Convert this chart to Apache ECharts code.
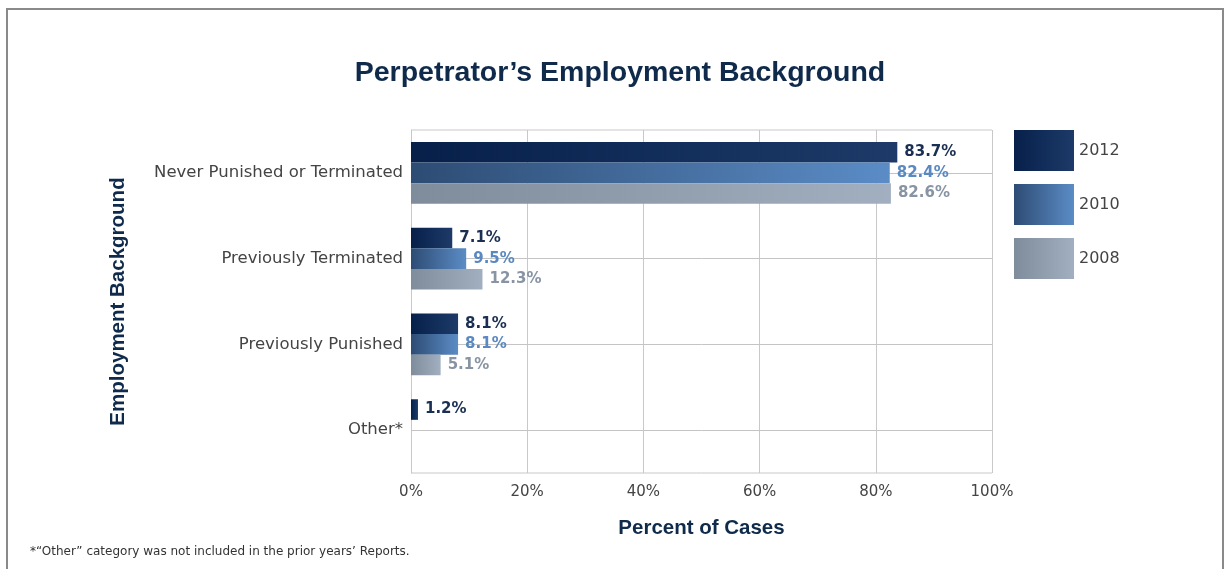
<!DOCTYPE html>
<html><head><meta charset="utf-8">
<script src="https://cdn.jsdelivr.net/npm/echarts@6/dist/echarts.min.js"></script>
<style>html,body{margin:0;padding:0;background:#fff}#c{width:1228px;height:569px}</style>
</head><body><div id="c"></div>
<script>
var categories = ['Never Punished or Terminated', 'Previously Terminated', 'Previously Punished', 'Other*'];
var years = ['2012', '2010', '2008'];
var v2012 = [83.7, 7.1, 8.1, 1.2];
var v2010 = [82.4, 9.5, 8.1, null];
var v2008 = [82.6, 12.3, 5.1, null];
var xTicks = [0, 20, 40, 60, 80, 100];

var FONT = 'Liberation Sans, Arial, sans-serif';
var FONT2 = 'DejaVu Sans, sans-serif';
function grad(a, b) {
  return new echarts.graphic.LinearGradient(0, 0, 1, 0, [{offset: 0, color: a}, {offset: 1, color: b}]);
}
var fills = [grad('#06204a', '#1d3a68'), grad('#2d4c74', '#5b8cc6'), grad('#7f8c9b', '#a2afc0')];
var labelColors = ['#1b2f52', '#5a88c0', '#8894a4'];
var seriesData = [v2012, v2010, v2008];

var series = years.map(function (y, i) {
  return {
    name: y, type: 'bar', data: seriesData[i],
    barGap: '0%', barCategoryGap: '28%',
    itemStyle: {color: fills[i]},
    label: {show: true, position: 'right', distance: 7, formatter: function (p) { return p.value.toFixed(1) + '%'; },
      color: labelColors[i], fontFamily: FONT2, fontWeight: 'bold', fontSize: 15},
    z: 5
  };
});
series.push({
  name: 'grid', type: 'line', data: [], silent: true,
  markLine: {
    silent: true, symbol: 'none', label: {show: false}, z: 1,
    lineStyle: {color: '#c4c4c4', type: 'solid', width: 1},
    data: categories.map(function (c) { return {yAxis: c}; })
  },
  z: 1
});

var chart = echarts.init(document.getElementById('c'));
chart.setOption({
  animation: false,
  backgroundColor: '#fff',
  title: {text: 'Perpetrator\u2019s Employment Background', left: 615, top: 54, textAlign: 'center',
    textStyle: {fontFamily: FONT, fontWeight: 'bold', fontSize: 28.5, color: '#0f2a4b'}},
  legend: {orient: 'vertical', left: 1014, top: 130, padding: 0, itemWidth: 60, itemHeight: 41, itemGap: 13,
    icon: 'rect', data: years,
    textStyle: {fontFamily: FONT2, fontSize: 16, color: '#444'}},
  grid: {left: 411, right: 236, top: 130, bottom: 96, containLabel: false},
  xAxis: {type: 'value', min: 0, max: 100, interval: 20,
    name: 'Percent of Cases', nameLocation: 'middle', nameGap: 45,
    nameTextStyle: {fontFamily: FONT, fontWeight: 'bold', fontSize: 20.5, color: '#0f2a4b'},
    axisLine: {show: false}, axisTick: {show: false},
    axisLabel: {formatter: function (v) { return xTicks.indexOf(v) >= 0 ? v + '%' : ''; }, fontFamily: FONT2, fontSize: 15, color: '#444', margin: 12},
    splitLine: {show: true, lineStyle: {color: '#c8c8c8', width: 1}}},
  yAxis: {type: 'category', data: categories, inverse: true,
    name: 'Employment Background', nameLocation: 'middle', nameGap: 282, nameRotate: 90,
    nameTextStyle: {fontFamily: FONT, fontWeight: 'bold', fontSize: 20.5, color: '#0f2a4b'},
    axisLine: {show: true, lineStyle: {color: '#c8c8c8', width: 1}}, axisTick: {show: false},
    axisLabel: {fontFamily: FONT2, fontSize: 16.5, color: '#444', margin: 8},
    splitLine: {show: false}},
  graphic: [
    {type: 'rect', shape: {x: 7, y: 9, width: 1216, height: 580}, style: {fill: 'none', stroke: '#8a8a8a', lineWidth: 2}, silent: true},
    {type: 'line', shape: {x1: 411, y1: 130, x2: 992, y2: 130}, style: {stroke: '#c8c8c8', lineWidth: 1}},
    {type: 'line', shape: {x1: 411, y1: 473, x2: 992, y2: 473}, style: {stroke: '#c8c8c8', lineWidth: 1}},
    {type: 'text', left: 30, top: 546, style: {text: '*\u201cOther\u201d category was not included in the prior years\u2019 Reports.', font: '12px DejaVu Sans, sans-serif', fill: '#333'}}
  ],
  series: series
});
</script></body></html>
